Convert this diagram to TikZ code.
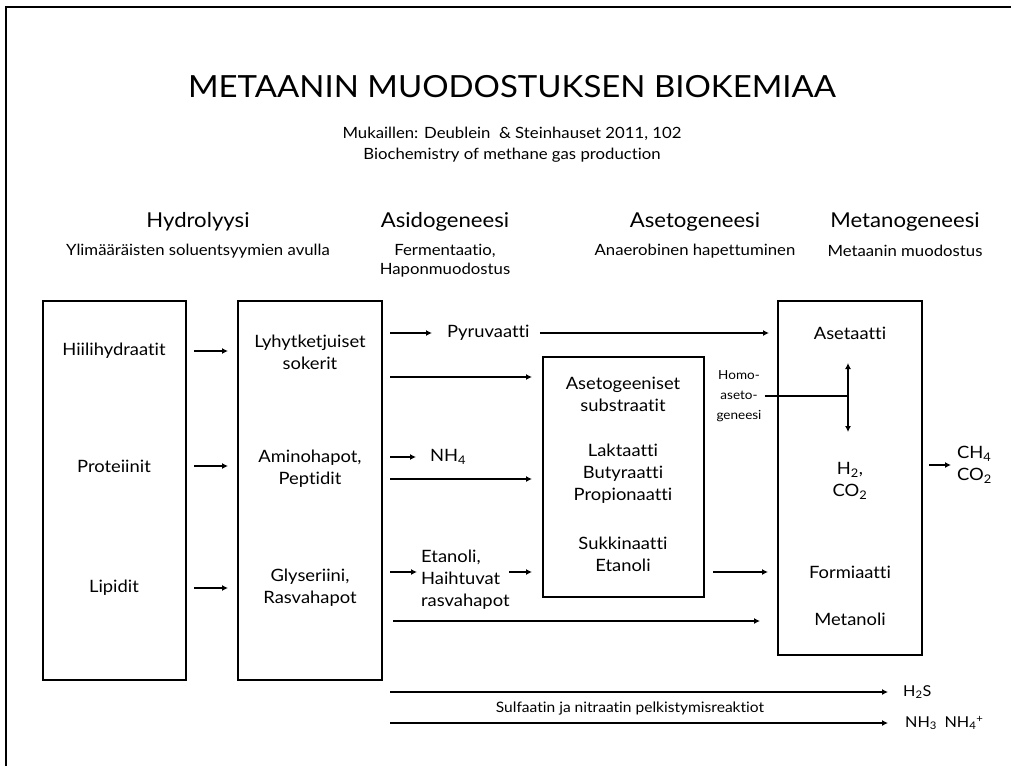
\documentclass[tikz,border=0pt]{standalone}
\usepackage{fontspec}
\setmainfont{Lato}[FakeStretch=1.08, Ligatures=NoCommon]
\usetikzlibrary{arrows.meta}

\tikzset{
  stagebox/.style={draw, line width=1.6pt, inner sep=0pt, outer sep=0pt, anchor=north west},
  conn/.style={line width=1.6pt, -{Latex[length=6pt,width=6pt]}},
  bothconn/.style={line width=1.6pt, {Latex[length=6pt,width=6pt]}-{Latex[length=6pt,width=6pt]}},
  plain/.style={line width=1.6pt},
  lbl/.style={inner sep=0pt, align=center, font=\fontsize{17}{22}\selectfont},
  lblw/.style={lbl, anchor=west, align=left},
  head/.style={inner sep=0pt, font=\fontsize{20.5}{24}\selectfont},
  subhead/.style={inner sep=0pt, align=center, font=\fontsize{15.5}{19}\selectfont},
  small/.style={inner sep=0pt, align=center, font=\fontsize{12.5}{20}\selectfont},
}

\begin{document}
\begin{tikzpicture}[x=1pt, y=-1pt]
\useasboundingbox (0,0) rectangle (1011,766);

% outer frame (open on the right and at the bottom)
\draw[line width=2.6pt] (6,766) -- (6,7) -- (1011,7);

% title block
\node[inner sep=0pt, font=\fontsize{30.5}{34}\selectfont] (title) at (512,87) {METAANIN MUODOSTUKSEN BIOKEMIAA};
\node[inner sep=0pt, align=center, font=\fontsize{15.5}{21}\selectfont] (src) at (512,145)
  {Mukaillen: Deublein\ \ \& Steinhauset 2011, 102\\Biochemistry of methane gas production};

% stage headings
\node[head] (h1) at (198,222) {Hydrolyysi};
\node[subhead] (s1) at (198,251) {Ylimääräisten soluentsyymien avulla};
\node[head] (h2) at (445,222) {Asidogeneesi};
\node[subhead] (s2) at (445,261) {Fermentaatio,\\Haponmuodostus};
\node[head] (h3) at (695,222) {Asetogeneesi};
\node[subhead] (s3) at (695,251) {Anaerobinen hapettuminen};
\node[head] (h4) at (905,222) {Metanogeneesi};
\node[subhead] (s4) at (905,251) {Metaanin muodostus};

% boxes
\node[stagebox, minimum width=143pt, minimum height=379pt] (b1) at (43,301) {};
\node[stagebox, minimum width=144pt, minimum height=379pt] (b2) at (238,301) {};
\node[stagebox, minimum width=161pt, minimum height=240pt] (b3) at (543,357) {};
\node[stagebox, minimum width=144pt, minimum height=354pt] (b4) at (778,301) {};

% box contents
\node[lbl] (hii) at (114,351) {Hiilihydraatit};
\node[lbl] (pro) at (114,466) {Proteiinit};
\node[lbl] (lip) at (114,588) {Lipidit};

\node[lbl] (lyh) at (310,352) {Lyhytketjuiset\\sokerit};
\node[lbl] (ami) at (310,469) {Aminohapot,\\Peptidit};
\node[lbl] (gly) at (310,588) {Glyseriini,\\Rasvahapot};

\node[lbl] (ase) at (623,394) {Asetogeeniset\\substraatit};
\node[lbl] (lak) at (623,474) {Laktaatti\\Butyraatti\\Propionaatti};
\node[lbl] (suk) at (623,554) {Sukkinaatti\\Etanoli};

\node[lbl] (aset) at (850,333) {Asetaatti};
\node[lbl] (h2c) at (850,481) {H\textsubscript{2},\\CO\textsubscript{2}};
\node[lbl] (form) at (850,572) {Formiaatti};
\node[lbl] (met) at (850,619) {Metanoli};

% intermediate products
\node[lblw] (pyr) at (447,333) {Pyruvaatti};
\node[lblw] (nh4) at (430,457) {NH\textsubscript{4}};
\node[lblw] (eta) at (421,580) {Etanoli,\\Haihtuvat\\rasvahapot};
\node[small] (homo) at (739,396) {Homo-\\aseto-\\geneesi};

% end products
\node[lblw] (ch4) at (957,465) {CH\textsubscript{4}\\CO\textsubscript{2}};
\node[lblw, font=\fontsize{15}{20}\selectfont] (h2s) at (903,692) {H\textsubscript{2}S};
\node[lblw, font=\fontsize{15}{20}\selectfont] (nh3) at (905,723) {NH\textsubscript{3}\enspace NH\textsubscript{4}\textsuperscript{+}};
\node[inner sep=0pt, font=\fontsize{14.4}{18}\selectfont] (sulf) at (630,708) {Sulfaatin ja nitraatin pelkistymisreaktiot};

% hydrolysis
\draw[conn] ([xshift=8pt]b1.east |- hii.center) -- ([xshift=-10pt]b2.west |- hii.center);
\draw[conn] ([xshift=8pt]b1.east |- pro.center) -- ([xshift=-10pt]b2.west |- pro.center);
\draw[conn] ([xshift=8pt]b1.east |- lip.center) -- ([xshift=-10pt]b2.west |- lip.center);

% acidogenesis
\draw[conn] ([xshift=8pt]b2.east |- pyr.west) -- ([xshift=-15pt]pyr.west);
\draw[conn] ([xshift=10pt]pyr.east) -- ([xshift=-9pt]b4.west |- pyr.west);
\coordinate (r2) at (0,377);
\draw[conn] ([xshift=8pt]b2.east |- r2) -- ([xshift=-11pt]b3.west |- r2);
\draw[conn] ([xshift=8pt]b2.east |- nh4.west) -- ([xshift=-14pt]nh4.west);
\coordinate (r4) at (0,479);
\draw[conn] ([xshift=8pt]b2.east |- r4) -- ([xshift=-11pt]b3.west |- r4);
\coordinate (r5) at (0,572);
\draw[conn] ([xshift=8pt]b2.east |- r5) -- ([xshift=-4pt]eta.west |- r5);
\draw[conn] ([xshift=-34pt]b3.west |- r5) -- ([xshift=-11pt]b3.west |- r5);
\coordinate (r6) at (0,621);
\draw[conn] ([xshift=11pt]b2.east |- r6) -- ([xshift=-18pt]b4.west |- r6);

% acetogenesis
\draw[conn] ([xshift=9pt]b3.east |- r5) -- ([xshift=-10pt]b4.west |- r5);

% homoacetogenesis
\coordinate (hj) at (848,396);
\draw[plain] ([xshift=3pt]homo.east |- hj) -- (hj);
\draw[bothconn] ([yshift=33pt]hj) -- ([yshift=-36pt]hj);

% methanogenesis
\draw[conn] ([xshift=7pt]b4.east |- ch4.west) -- ([xshift=-6pt]ch4.west);

% sulphate and nitrate reduction
\draw[conn] ([xshift=8pt]b2.east |- h2s.west) -- ([xshift=-15pt]h2s.west);
\draw[conn] ([xshift=8pt]b2.east |- nh3.west) -- ([xshift=-17pt]nh3.west);
\end{tikzpicture}
\end{document}
